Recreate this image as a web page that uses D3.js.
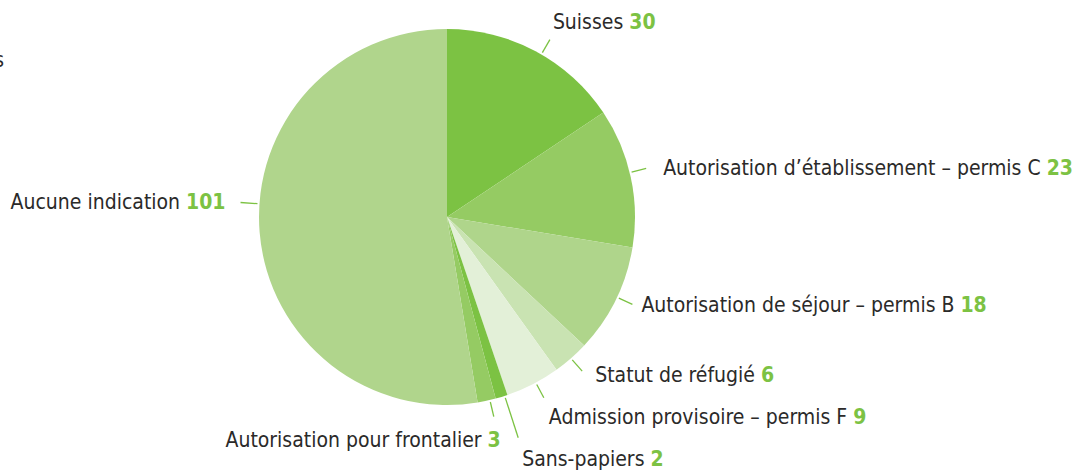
<!DOCTYPE html>
<html>
<head>
<meta charset="utf-8">
<script src="https://cdn.jsdelivr.net/npm/d3@7"></script>
<style>
  body { margin: 0; background: #fff; }
  svg { display: block; }
  text { font-family: "DejaVu Sans Condensed", "DejaVu Sans", sans-serif; }
</style>
</head>
<body>
<div id="chart"></div>
<script>
// data, clockwise from 12 o'clock
const categories = [
    "Suisses",
    "Autorisation d\u2019établissement \u2013 permis C",
    "Autorisation de séjour \u2013 permis B",
    "Statut de réfugié",
    "Admission provisoire \u2013 permis F",
    "Sans-papiers",
    "Autorisation pour frontalier",
    "Aucune indication"
];
const values = [30, 23, 18, 6, 9, 2, 3, 101];
const sliceColors = ["#7cc243", "#95cb63", "#afd58b", "#c9e3b2", "#e3f0d8", "#7cc243", "#95cb63", "#b0d58c"];

const width = 1078, height = 471;
const cx = 447, cy = 217, radius = 188;
const fontSize = 21;

// label layout: text position relative to the leader end, anchor, leader length, angle tweak (deg)
const labelLayout = [
    { dx: 3,   dy: -18, anchor: "start", len: 205, turn: 2 },
    { dx: 17,  dy: -1,  anchor: "start", len: 205, turn: -1.5 },
    { dx: 9,   dy: 0,   anchor: "start", len: 205, turn: -1 },
    { dx: 13,  dy: 4,   anchor: "start", len: 205, turn: 0 },
    { dx: 5,   dy: 19,  anchor: "start", len: 205, turn: -1 },
    { dx: 4,   dy: 21,  anchor: "start", len: 232, turn: -1 },
    { dx: 7,   dy: 23,  anchor: "end",   len: 205, turn: -1 },
    { dx: -15, dy: -1,  anchor: "end",   len: 207, turn: 8.7 }
];

const svg = d3.select("#chart")
    .append("svg")
    .attr("width", width)
    .attr("height", height);

// cut-off fragment of a previous text on the left border
svg.append("text")
    .attr("x", 4)
    .attr("y", 67)
    .style("text-anchor", "end")
    .style("font-size", fontSize + "px")
    .attr("fill", "#2b2a29")
    .text("s");

const g = svg.append("g")
    .attr("transform", "translate(" + cx + "," + cy + ")");

const pie = d3.pie().sort(null).value(function (d) { return d; });
const arcs = pie(values);
const arc = d3.arc().innerRadius(0).outerRadius(radius);

g.selectAll("path")
    .data(arcs)
    .enter()
    .append("path")
    .attr("d", arc)
    .attr("fill", function (d, i) { return sliceColors[i]; });

function polar(a, r) {
    return [r * Math.sin(a), -r * Math.cos(a)];
}

arcs.forEach(function (d, i) {
    const lay = labelLayout[i];
    const a = (d.startAngle + d.endAngle) / 2 + lay.turn * Math.PI / 180;
    const p0 = polar(a, radius + 2);
    const p1 = polar(a, lay.len);

    g.append("line")
        .attr("x1", p0[0]).attr("y1", p0[1])
        .attr("x2", p1[0]).attr("y2", p1[1])
        .attr("stroke", "#7cc243")
        .attr("stroke-width", 1.3);

    const t = g.append("text")
        .attr("x", p1[0] + lay.dx)
        .attr("y", p1[1] + lay.dy)
        .attr("dy", "0.35em")
        .style("text-anchor", lay.anchor)
        .style("font-size", fontSize + "px")
        .attr("fill", "#2b2a29");
    t.append("tspan").text(categories[i] + " ");
    t.append("tspan")
        .attr("fill", "#7cc243")
        .style("font-weight", "bold")
        .text(values[i]);
});
</script>
</body>
</html>
